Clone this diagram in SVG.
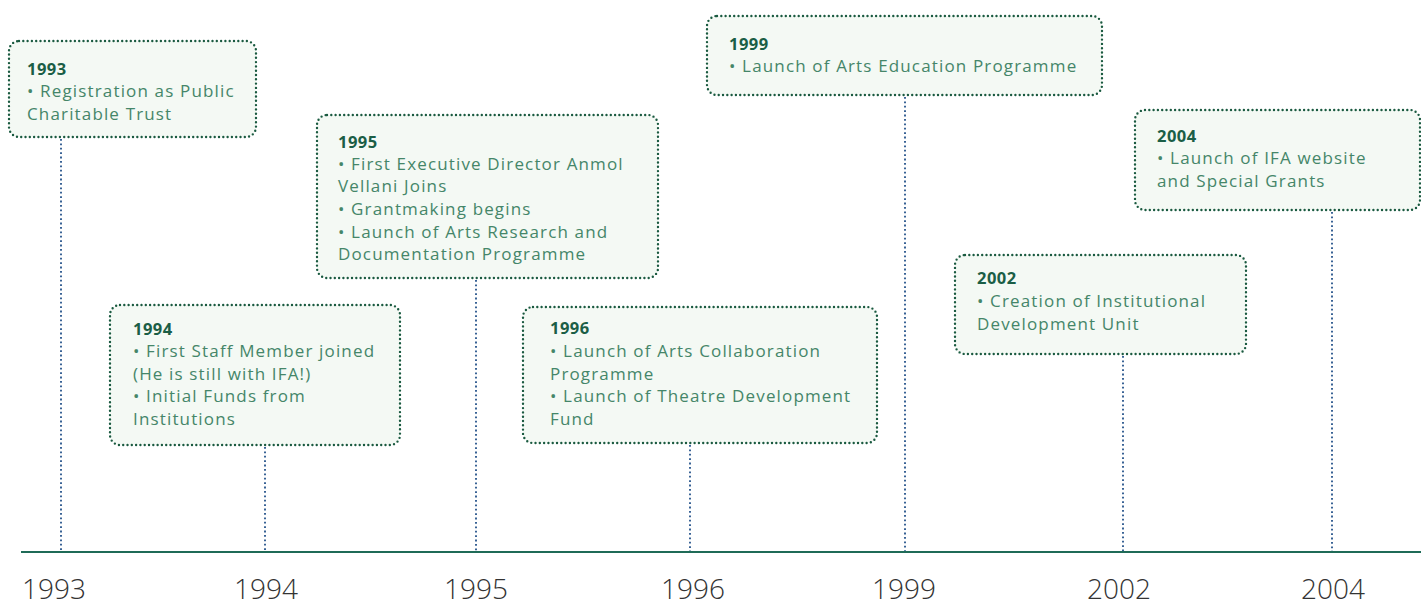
<svg xmlns="http://www.w3.org/2000/svg" width="1421" height="606" viewBox="0 0 1421 606">
<style>
.box{fill:#f4f9f4;stroke:#1a5a40;stroke-width:2.4;stroke-dasharray:0 4.3;stroke-linecap:round}
.t{font-family:"Open Sans","Liberation Sans",sans-serif;font-size:16.5px;font-weight:700;fill:#1b5e46;letter-spacing:0.5px}
.b{font-family:"Open Sans","Liberation Sans",sans-serif;font-size:17px;fill:#458669;letter-spacing:1.15px}
.conn{stroke:#24528a;stroke-width:1.8;stroke-dasharray:1.8 2.6;fill:none}
.axis{stroke:#1f6b57;stroke-width:2}
.yr{font-family:"Open Sans","Liberation Sans",sans-serif;font-size:28px;font-weight:300;fill:#333;text-anchor:middle}
</style>
<rect width="1421" height="606" fill="#ffffff"/>
<g id="connectors">
<line class="conn" x1="61" y1="139" x2="61" y2="551"/>
<line class="conn" x1="265" y1="447" x2="265" y2="551"/>
<line class="conn" x1="476" y1="280" x2="476" y2="551"/>
<line class="conn" x1="690" y1="445" x2="690" y2="551"/>
<line class="conn" x1="905" y1="97" x2="905" y2="551"/>
<line class="conn" x1="1123" y1="356" x2="1123" y2="551"/>
<line class="conn" x1="1332" y1="212" x2="1332" y2="551"/>
</g>
<g id="axis">
<line class="axis" x1="21" y1="552" x2="1421" y2="552"/>
<text class="yr" x="54" y="599">1993</text>
<text class="yr" x="266" y="599">1994</text>
<text class="yr" x="476" y="599">1995</text>
<text class="yr" x="693" y="599">1996</text>
<text class="yr" x="904" y="599">1999</text>
<text class="yr" x="1119" y="599">2002</text>
<text class="yr" x="1333" y="599">2004</text>
</g>
<g id="n1993">
<rect class="box" x="9" y="41" width="247" height="96" rx="10"/>
<text class="t" x="27" y="75">1993</text>
<text class="b" x="27" y="97">• Registration as Public</text>
<text class="b" x="27" y="120">Charitable Trust</text>
</g>
<g id="n1994">
<rect class="box" x="110" y="305" width="290" height="140" rx="10"/>
<text class="t" x="133" y="335">1994</text>
<text class="b" x="133" y="357">• First Staff Member joined</text>
<text class="b" x="133" y="380">(He is still with IFA!)</text>
<text class="b" x="133" y="402">• Initial Funds from</text>
<text class="b" x="133" y="425">Institutions</text>
</g>
<g id="n1995">
<rect class="box" x="317" y="115" width="341" height="163" rx="10"/>
<text class="t" x="338" y="148">1995</text>
<text class="b" x="338" y="170">• First Executive Director Anmol</text>
<text class="b" x="338" y="192">Vellani Joins</text>
<text class="b" x="338" y="215">• Grantmaking begins</text>
<text class="b" x="338" y="238">• Launch of Arts Research and</text>
<text class="b" x="338" y="260">Documentation Programme</text>
</g>
<g id="n1996">
<rect class="box" x="523" y="307" width="354" height="136" rx="10"/>
<text class="t" x="550" y="334">1996</text>
<text class="b" x="550" y="357">• Launch of Arts Collaboration</text>
<text class="b" x="550" y="380">Programme</text>
<text class="b" x="550" y="402">• Launch of Theatre Development</text>
<text class="b" x="550" y="425">Fund</text>
</g>
<g id="n1999">
<rect class="box" x="707" y="16" width="395" height="79" rx="10"/>
<text class="t" x="729" y="50">1999</text>
<text class="b" x="729" y="72">• Launch of Arts Education Programme</text>
</g>
<g id="n2002">
<rect class="box" x="955" y="255" width="291" height="99" rx="10"/>
<text class="t" x="977" y="284">2002</text>
<text class="b" x="977" y="307">• Creation of Institutional</text>
<text class="b" x="977" y="330">Development Unit</text>
</g>
<g id="n2004">
<rect class="box" x="1135" y="110" width="285" height="100" rx="10"/>
<text class="t" x="1157" y="142">2004</text>
<text class="b" x="1157" y="164">• Launch of IFA website</text>
<text class="b" x="1157" y="187">and Special Grants</text>
</g>
</svg>
